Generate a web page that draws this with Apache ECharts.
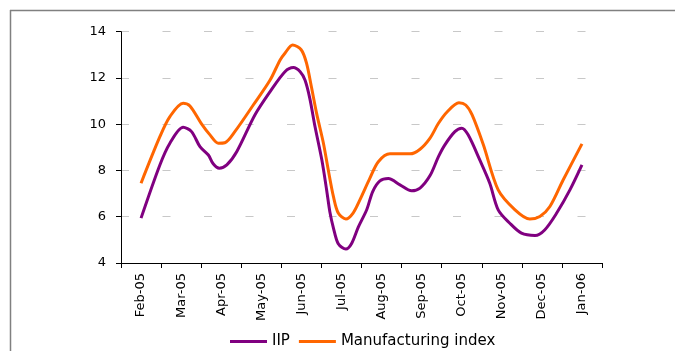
<!DOCTYPE html>
<html>
<head>
<meta charset="utf-8">
<script src="https://cdn.jsdelivr.net/npm/echarts@6/dist/echarts.min.js"></script>
<style>
html,body{margin:0;padding:0;background:#fff;}
#chart{width:675px;height:351px;}
</style>
</head>
<body>
<div id="chart"></div>
<script>
const months = ['Feb-05','Mar-05','Apr-05','May-05','Jun-05','Jul-05','Aug-05','Sep-05','Oct-05','Nov-05','Dec-05','Jan-06'];
const yTicks = [4, 6, 8, 10, 12, 14];

// position along the month axis (0 = Feb-05, 11 = Jan-06) and value
const iipX = [0,0.47,0.72,1.05,1.26,1.47,1.68,1.80,1.95,2.14,2.39,2.84,3.22,3.59,3.80,3.97,4.09,4.21,4.34,4.51,4.63,4.71,4.80,4.92,5.11,5.25,5.42,5.63,5.78,5.96,6.17,6.46,6.75,6.96,7.21,7.42,7.58,7.83,8.00,8.16,8.45,8.70,8.91,9.20,9.49,9.83,10.07,10.37,10.70,11.00];
const iipY = [5.94,8.24,9.18,9.87,9.68,9.03,8.67,8.29,8.10,8.24,8.82,10.4,11.41,12.27,12.45,12.27,11.91,11.12,9.9,8.46,7.16,6.22,5.51,4.83,4.60,4.83,5.55,6.30,7.09,7.55,7.65,7.38,7.12,7.24,7.78,8.6,9.11,9.68,9.83,9.54,8.46,7.45,6.30,5.72,5.29,5.19,5.43,6.16,7.16,8.24];

const mfgX = [0,0.47,0.72,1.05,1.22,1.50,1.72,1.93,2.09,2.34,2.80,3.22,3.47,3.59,3.78,4.00,4.13,4.25,4.38,4.55,4.67,4.80,4.92,5.11,5.29,5.46,5.71,5.92,6.21,6.71,6.96,7.21,7.42,7.64,7.93,8.10,8.26,8.54,8.91,9.33,9.70,9.95,10.20,10.53,11.00];
const mfgY = [7.45,9.46,10.33,10.91,10.79,10.04,9.54,9.18,9.20,9.68,10.83,11.91,12.78,13.07,13.43,13.21,12.63,11.62,10.47,9.18,8.03,6.87,6.16,5.90,6.16,6.73,7.67,8.38,8.72,8.72,8.92,9.4,10.04,10.54,10.93,10.83,10.40,9.11,7.16,6.30,5.90,6.01,6.44,7.59,9.15];

const seriesNames = ['IIP', 'Manufacturing index'];
const colors = ['#800080', '#FF6600'];

function pairs(xs, ys){ return xs.map((x,i)=>[x, ys[i]]); }

const FONT = '"DejaVu Sans", sans-serif';
const chart = echarts.init(document.getElementById('chart'), null, {renderer:'canvas'});
chart.setOption({
  animation: false,
  backgroundColor: '#fff',
  textStyle: {fontFamily: FONT},
  graphic: [
    {type:'line', shape:{x1:10, y1:10.5, x2:675, y2:10.5}, style:{stroke:'#808080', lineWidth:1.5}},
    {type:'line', shape:{x1:10.5, y1:10, x2:10.5, y2:351}, style:{stroke:'#808080', lineWidth:1.5}}
  ],
  grid: {left:121, right:73, top:31.7, bottom:88, containLabel:false},
  legend: {
    left: 225, top: 329,
    icon: 'rect', itemWidth: 37, itemHeight: 3, itemGap: 9,
    textStyle: {fontFamily: FONT, fontSize: 15, color:'#000', padding:[0,0,0,0]},
    data: seriesNames
  },
  xAxis: [
    {
      type:'category', data: months, boundaryGap: true,
      axisLine:{onZero:false, lineStyle:{color:'#000', width:1}},
      axisTick:{show:true, length:5, lineStyle:{color:'#000'}, alignWithLabel:false},
      axisLabel:{rotate:90, fontSize:13, color:'#000', margin:10, fontFamily: FONT, interval:0},
      splitLine:{show:false}
    },
    {
      type:'value', min:-0.5, max:11.5, show:false
    }
  ],
  yAxis: {
    type:'value', min: yTicks[0], max: yTicks[yTicks.length-1], interval: 2,
    axisLine:{show:true, onZero:false, lineStyle:{color:'#000', width:1}},
    axisTick:{show:true, length:5, lineStyle:{color:'#000'}},
    axisLabel:{fontSize:13, color:'#000', margin:15, fontFamily: FONT},
    splitLine:{show:true, lineStyle:{color:'#c8c8c8', width:1.2, type:[8,33.5]}}
  },
  series: [
    {name: seriesNames[0], type:'line', xAxisIndex:1, data: pairs(iipX, iipY), smooth:0.3, showSymbol:false,
     lineStyle:{color:colors[0], width:3}, itemStyle:{color:colors[0]}},
    {name: seriesNames[1], type:'line', xAxisIndex:1, data: pairs(mfgX, mfgY), smooth:0.3, showSymbol:false,
     lineStyle:{color:colors[1], width:3}, itemStyle:{color:colors[1]}}
  ]
});
</script>
</body>
</html>
